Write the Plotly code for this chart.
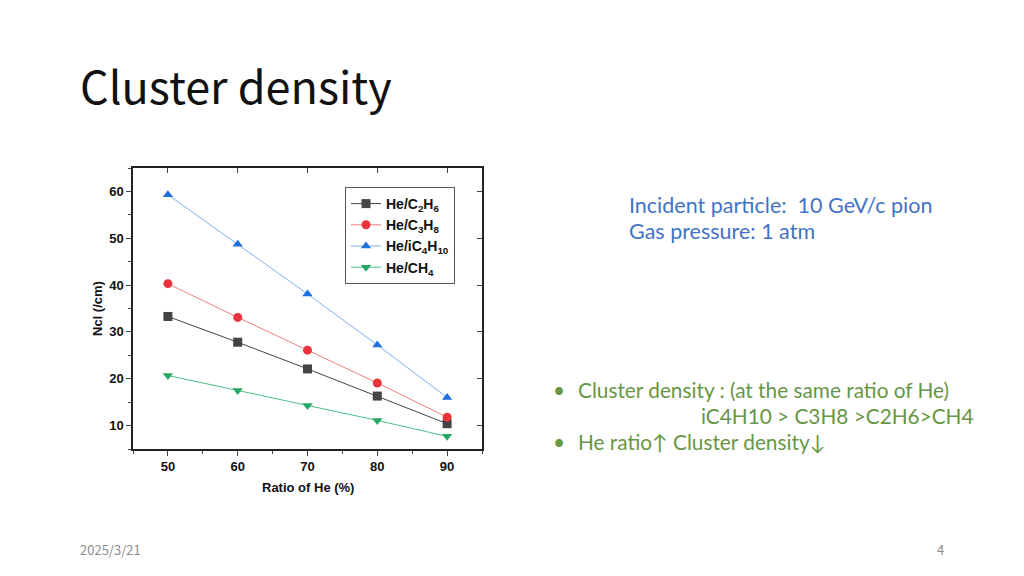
import plotly.graph_objects as go

OFF = 8  # the page body adds an 8px margin
W, H = 1024 - OFF, 576 - OFF

# data
he_ratio = [50, 60, 70, 80, 90]
ncl_c2h6 = [33.3, 27.8, 22.1, 16.3, 10.4]
ncl_c3h8 = [40.3, 33.1, 26.1, 19.1, 11.8]
ncl_ic4h10 = [59.3, 48.7, 38.1, 27.2, 16.0]
ncl_ch4 = [20.7, 17.5, 14.3, 11.1, 7.7]

series_names = ["He/C<sub>2</sub>H<sub>6</sub>", "He/C<sub>3</sub>H<sub>8</sub>",
                "He/iC<sub>4</sub>H<sub>10</sub>", "He/CH<sub>4</sub>"]
x_ticks = [50, 60, 70, 80, 90]
y_ticks = [10, 20, 30, 40, 50, 60]


def px(x):
    return (x - OFF) / W


def py(y):
    return 1 - (y - OFF) / H


fig = go.Figure()

styles = [
    ("#444444", "#444444", "square"),
    ("#f08080", "#e8343a", "circle"),
    ("#7fb0f0", "#1f6fe0", "triangle-up"),
    ("#4cbf86", "#25a865", "triangle-down"),
]
for name, vals, (lc, mc, sym) in zip(series_names,
                                     [ncl_c2h6, ncl_c3h8, ncl_ic4h10, ncl_ch4], styles):
    fig.add_trace(go.Scatter(
        x=he_ratio, y=vals, name=name, mode="lines+markers",
        line=dict(color=lc, width=1),
        marker=dict(color=mc, symbol=sym, size=9),
    ))

# dummy trace for the mirrored (inward) ticks on top/right
fig.add_trace(go.Scatter(x=[None], y=[None], xaxis="x2", yaxis="y2", showlegend=False))

tick_font = dict(family="Liberation Sans", size=13, color="#111", weight="bold")
fig.update_layout(
    width=W, height=H,
    margin=dict(l=0, r=0, t=0, b=0),
    paper_bgcolor="white", plot_bgcolor="white",
    xaxis=dict(
        domain=[px(133), px(482)], range=[45, 95],
        tickvals=x_ticks, ticks="outside", ticklen=5, tickwidth=1.3,
        minor=dict(dtick=5, tick0=45, ticks="outside", ticklen=3, tickwidth=1.3),
        showline=True, linecolor="#222", linewidth=1.5, mirror=True,
        showgrid=False, zeroline=False, tickfont=tick_font, anchor="y",
    ),
    yaxis=dict(
        domain=[py(449), py(168)], range=[5, 65],
        tickvals=y_ticks, ticks="outside", ticklen=5, tickwidth=1.3,
        minor=dict(dtick=5, tick0=5, ticks="outside", ticklen=3, tickwidth=1.3),
        showline=True, linecolor="#222", linewidth=1.5, mirror=True,
        showgrid=False, zeroline=False, tickfont=tick_font, anchor="x",
    ),
    xaxis2=dict(
        overlaying="x", side="top", anchor="y", range=[45, 95],
        tickvals=x_ticks, ticks="inside", ticklen=5, tickwidth=1.3,
        showticklabels=False, showgrid=False, zeroline=False, showline=False,
    ),
    yaxis2=dict(
        overlaying="y", side="right", anchor="x", range=[5, 65],
        tickvals=y_ticks, ticks="inside", ticklen=5, tickwidth=1.3,
        showticklabels=False, showgrid=False, zeroline=False, showline=False,
    ),
    legend=dict(
        x=px(345), y=py(187), xanchor="left", yanchor="top",
        bordercolor="#555", borderwidth=1, bgcolor="white",
        font=dict(family="Liberation Sans", size=14, color="#111", weight="bold"),
        tracegroupgap=0, itemwidth=30,
    ),
    showlegend=True,
    font=dict(family="Liberation Sans"),
)

# axis titles
fig.add_annotation(text="<b>Ratio of He (%)</b>", x=px(308), y=py(487), xref="paper", yref="paper",
                   xanchor="center", yanchor="middle", showarrow=False,
                   font=dict(family="Liberation Sans", size=13, color="#111"))
fig.add_annotation(text="<b>Ncl (/cm)</b>", x=px(97), y=py(309), xref="paper", yref="paper",
                   xanchor="center", yanchor="middle", showarrow=False, textangle=-90,
                   font=dict(family="Liberation Sans", size=13, color="#111"))

# slide title
fig.add_annotation(text="Cluster density", x=px(78), y=py(84), xref="paper", yref="paper",
                   xanchor="left", yanchor="middle", showarrow=False,
                   font=dict(family="Noto Sans CJK SC", size=45, color="#111"))

# info text
blue = "#4472c4"
fig.add_annotation(text="Incident particle:  10 GeV/c pion", x=px(627), y=py(205),
                   xref="paper", yref="paper", xanchor="left", yanchor="middle", showarrow=False,
                   font=dict(family="Lato", size=21.5, color=blue))
fig.add_annotation(text="Gas pressure: 1 atm", x=px(627), y=py(231),
                   xref="paper", yref="paper", xanchor="left", yanchor="middle", showarrow=False,
                   font=dict(family="Lato", size=21.5, color=blue))

green = "#679645"
bullet_lines = [
    (551, 389, "•"),
    (576, 389, "Cluster density : (at the same ratio of He)"),
    (699, 415, "iC4H10 > C3H8 >C2H6>CH4"),
    (551, 441, "•"),
    (576, 441, "He ratio↑ Cluster density↓"),
]
for x, y, t in bullet_lines:
    fig.add_annotation(text=t, x=px(x), y=py(y), xref="paper", yref="paper",
                       xanchor="left", yanchor="middle", showarrow=False,
                       font=dict(family="Lato", size=20.8, color=green))

# footer
fig.add_annotation(text="2025/3/21", x=px(78), y=py(549), xref="paper", yref="paper",
                   xanchor="left", yanchor="middle", showarrow=False,
                   font=dict(family="Noto Sans CJK SC", size=13, color="#8c8c8c"))
fig.add_annotation(text="4", x=px(946), y=py(549), xref="paper", yref="paper",
                   xanchor="right", yanchor="middle", showarrow=False,
                   font=dict(family="Noto Sans CJK SC", size=13, color="#8c8c8c"))

fig.write_html("out.html")
